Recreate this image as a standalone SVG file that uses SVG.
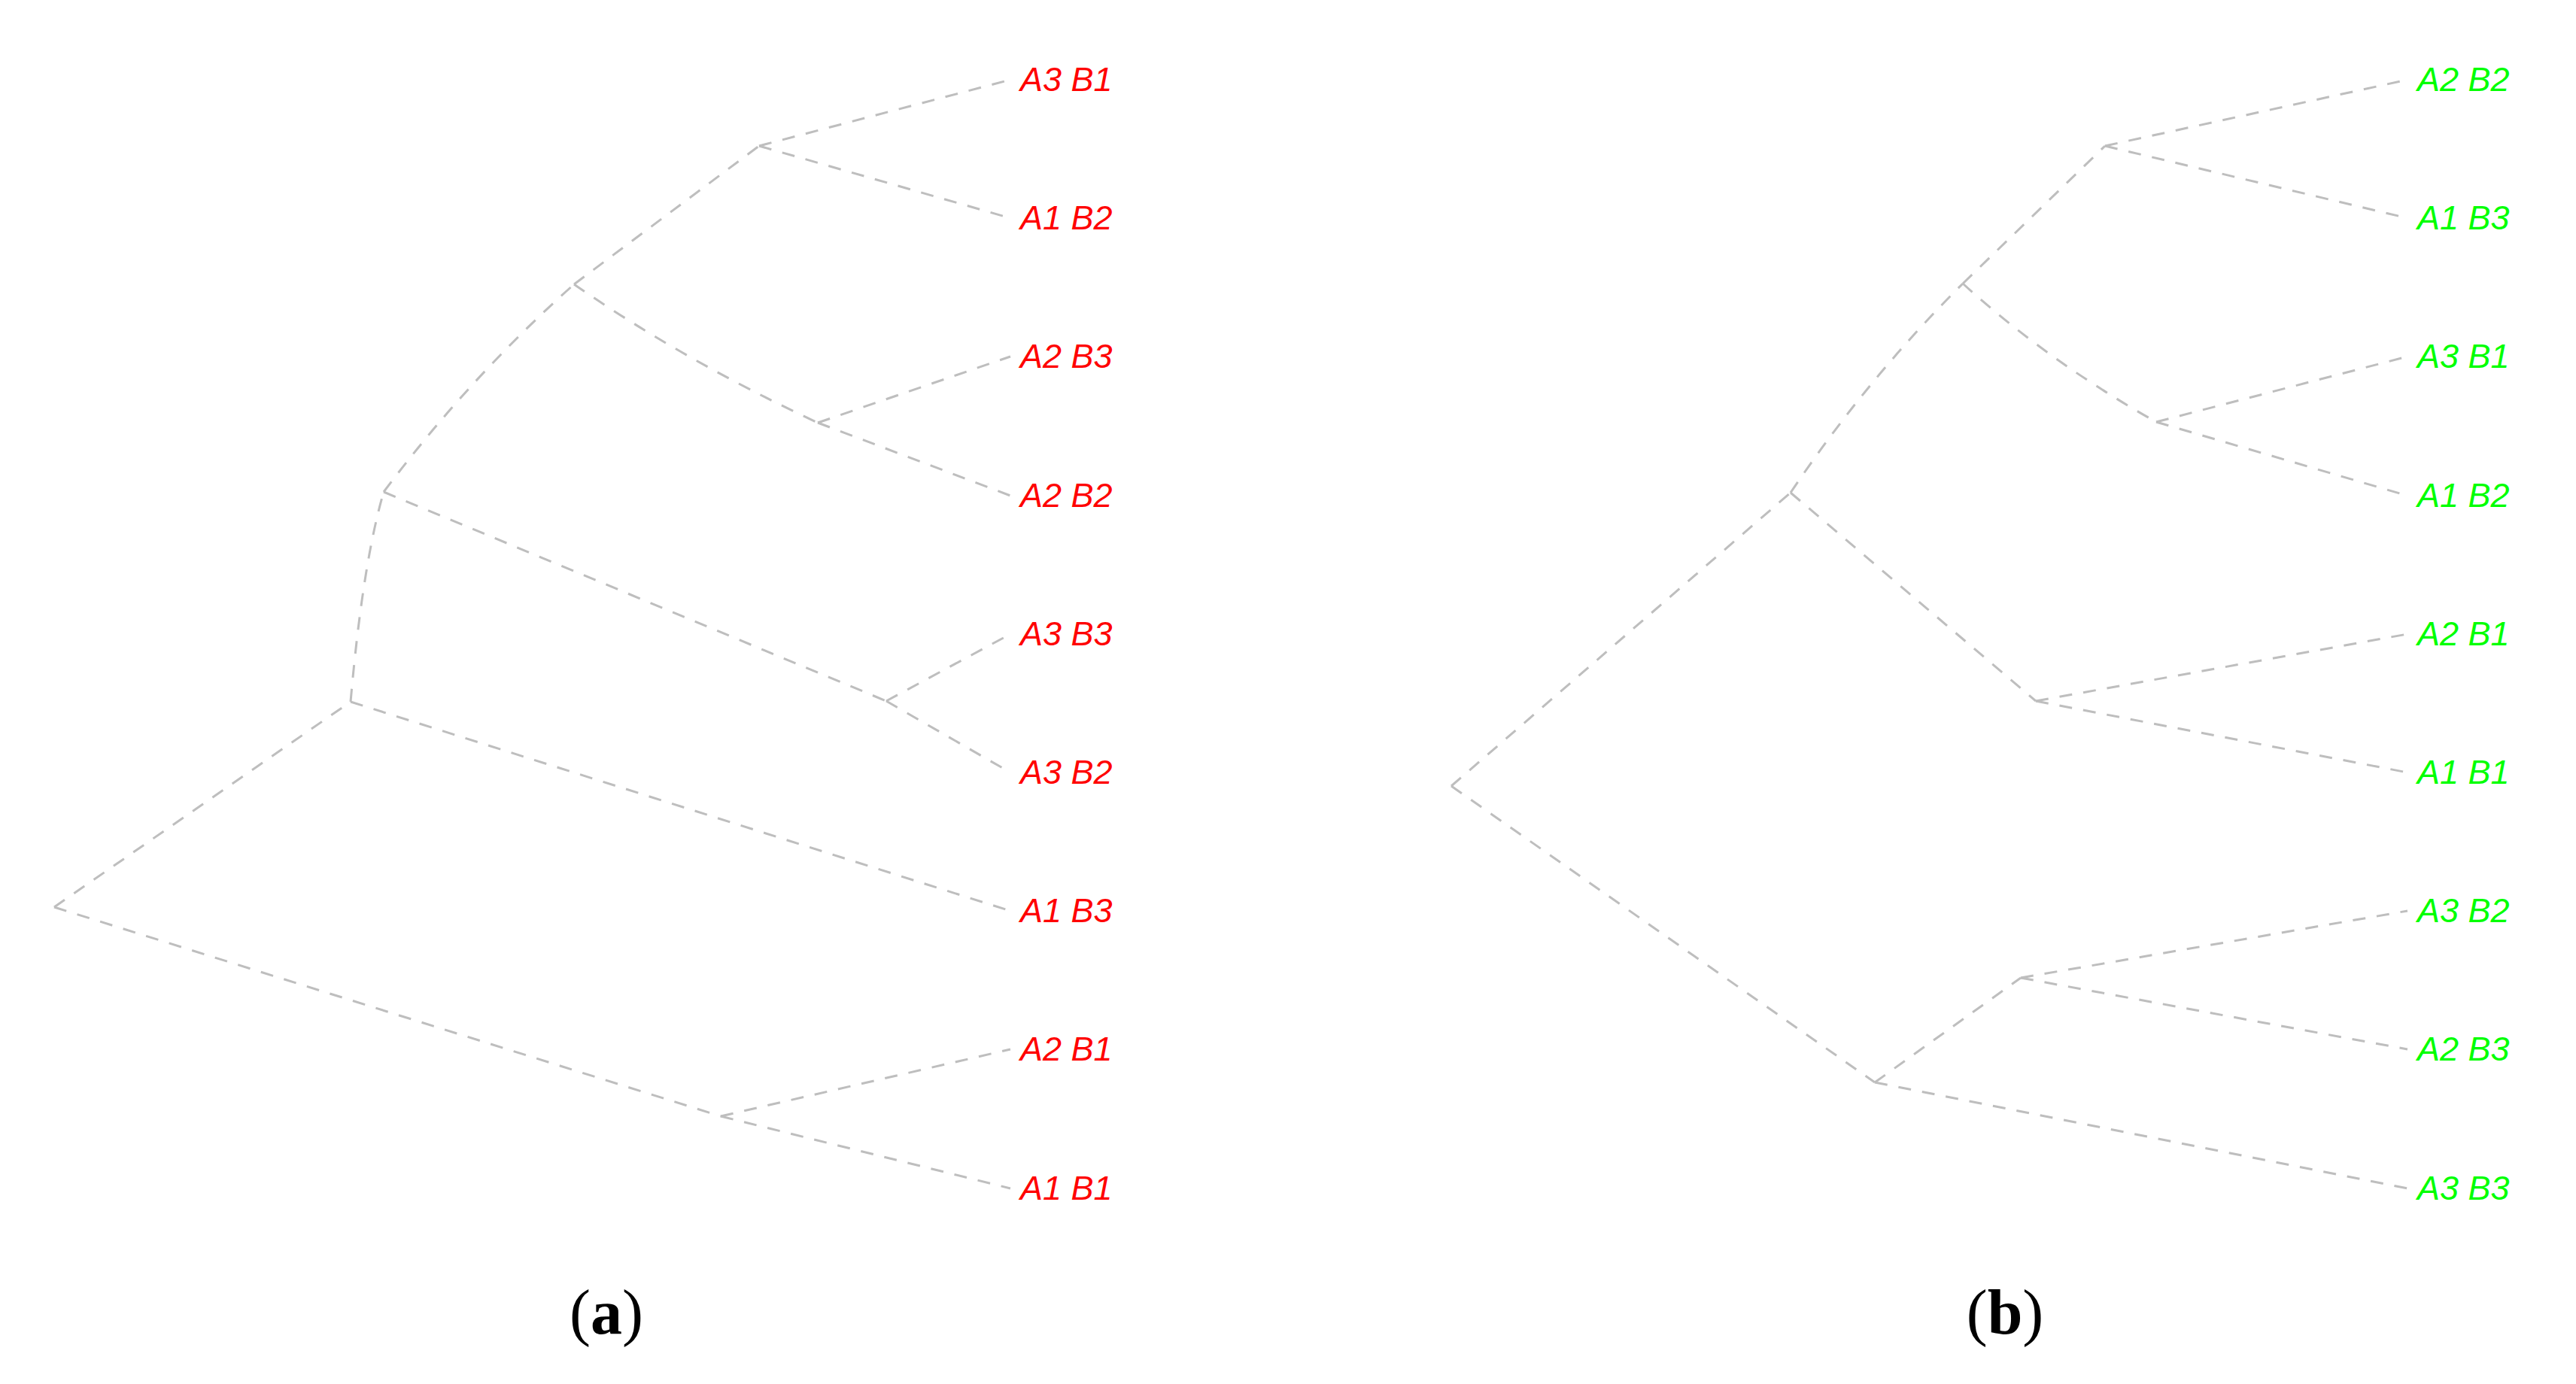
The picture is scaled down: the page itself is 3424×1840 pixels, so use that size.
<svg xmlns="http://www.w3.org/2000/svg" width="3424" height="1840" viewBox="0 0 3424 1840">
<style>
.e{fill:none;stroke:#bebebe;stroke-width:3;stroke-dasharray:17 15}
.lbl{font-family:"Liberation Sans",Arial,sans-serif;font-style:italic;font-size:45px}
.a{fill:#ff0000}
.b{fill:#00ff00}
.cap{font-family:"Liberation Serif","Times New Roman",serif;font-size:84px;fill:#000;text-anchor:middle}
</style>
<rect width="3424" height="1840" fill="#ffffff"/>
<g id="connectors-a">
<path class="e" d="M72,1206 L466,933"/>
<path class="e" d="M72,1206 L958,1484"/>
<path class="e" d="M466,933 Q482,750 510,654"/>
<path class="e" d="M466,933 L1343,1211"/>
<path class="e" d="M510,654 Q624,502 763,378"/>
<path class="e" d="M510,654 L1178,932"/>
<path class="e" d="M763,378 L1009,194"/>
<path class="e" d="M763,378 Q909,479 1087,562"/>
<path class="e" d="M1009,194 L1343,106"/>
<path class="e" d="M1009,194 L1343,290"/>
<path class="e" d="M1087,562 L1343,474"/>
<path class="e" d="M1087,562 L1343,659"/>
<path class="e" d="M1178,932 L1343,843"/>
<path class="e" d="M1178,932 L1343,1027"/>
<path class="e" d="M958,1484 L1343,1395"/>
<path class="e" d="M958,1484 L1343,1580"/>
</g>
<g id="connectors-b">
<path class="e" d="M1929,1045 L2380,655"/>
<path class="e" d="M1929,1045 L2492,1439"/>
<path class="e" d="M2380,655 Q2483,502 2609,377"/>
<path class="e" d="M2380,655 L2706,932"/>
<path class="e" d="M2609,377 L2798,194"/>
<path class="e" d="M2609,377 Q2722,480 2866,561"/>
<path class="e" d="M2798,194 L3200,106"/>
<path class="e" d="M2798,194 L3200,290"/>
<path class="e" d="M2866,561 L3200,474"/>
<path class="e" d="M2866,561 L3200,659"/>
<path class="e" d="M2706,932 L3200,843"/>
<path class="e" d="M2706,932 L3200,1027"/>
<path class="e" d="M2492,1439 L2686,1300"/>
<path class="e" d="M2492,1439 L3200,1580"/>
<path class="e" d="M2686,1300 L3200,1211"/>
<path class="e" d="M2686,1300 L3200,1395"/>
</g>
<g id="leaf-a-A3B1"><text class="lbl a" x="1356" y="121">A3 B1</text></g>
<g id="leaf-a-A1B2"><text class="lbl a" x="1356" y="305">A1 B2</text></g>
<g id="leaf-a-A2B3"><text class="lbl a" x="1356" y="489">A2 B3</text></g>
<g id="leaf-a-A2B2"><text class="lbl a" x="1356" y="674">A2 B2</text></g>
<g id="leaf-a-A3B3"><text class="lbl a" x="1356" y="858">A3 B3</text></g>
<g id="leaf-a-A3B2"><text class="lbl a" x="1356" y="1042">A3 B2</text></g>
<g id="leaf-a-A1B3"><text class="lbl a" x="1356" y="1226">A1 B3</text></g>
<g id="leaf-a-A2B1"><text class="lbl a" x="1356" y="1410">A2 B1</text></g>
<g id="leaf-a-A1B1"><text class="lbl a" x="1356" y="1595">A1 B1</text></g>
<g id="leaf-b-A2B2"><text class="lbl b" x="3213" y="121">A2 B2</text></g>
<g id="leaf-b-A1B3"><text class="lbl b" x="3213" y="305">A1 B3</text></g>
<g id="leaf-b-A3B1"><text class="lbl b" x="3213" y="489">A3 B1</text></g>
<g id="leaf-b-A1B2"><text class="lbl b" x="3213" y="674">A1 B2</text></g>
<g id="leaf-b-A2B1"><text class="lbl b" x="3213" y="858">A2 B1</text></g>
<g id="leaf-b-A1B1"><text class="lbl b" x="3213" y="1042">A1 B1</text></g>
<g id="leaf-b-A3B2"><text class="lbl b" x="3213" y="1226">A3 B2</text></g>
<g id="leaf-b-A2B3"><text class="lbl b" x="3213" y="1410">A2 B3</text></g>
<g id="leaf-b-A3B3"><text class="lbl b" x="3213" y="1595">A3 B3</text></g>
<g id="caption-a"><text class="cap" x="806" y="1773">(<tspan font-weight="bold">a</tspan>)</text></g>
<g id="caption-b"><text class="cap" x="2665" y="1773">(<tspan font-weight="bold">b</tspan>)</text></g>
</svg>
